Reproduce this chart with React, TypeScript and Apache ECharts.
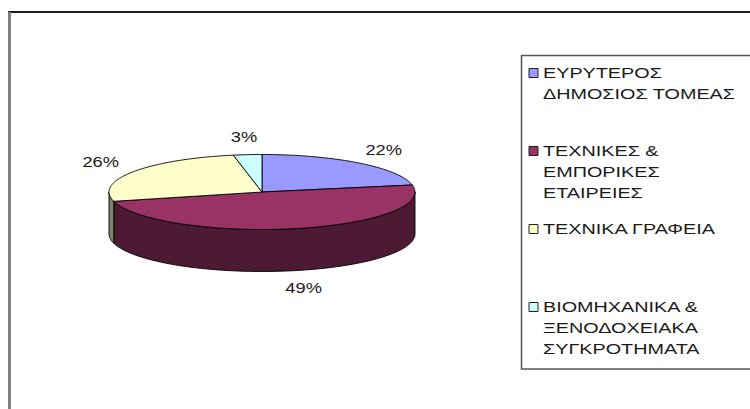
import React, { useEffect, useRef } from "react";
import * as echarts from "echarts";

// ---- data ----
const CATEGORIES = [
  "ΕΥΡΥΤΕΡΟΣ\nΔΗΜΟΣΙΟΣ ΤΟΜΕΑΣ",
  "ΤΕΧΝΙΚΕΣ &\nΕΜΠΟΡΙΚΕΣ\nΕΤΑΙΡΕΙΕΣ",
  "ΤΕΧΝΙΚΑ ΓΡΑΦΕΙΑ",
  "ΒΙΟΜΗΧΑΝΙΚΑ &\nΞΕΝΟΔΟΧΕΙΑΚΑ\nΣΥΓΚΡΟΤΗΜΑΤΑ",
];
const VALUES = [22, 49, 26, 3];

// ---- styles / layout ----
const COLORS = ["#9999FF", "#993366", "#FFFFCC", "#CCFFFF"];
const CX = 262;
const CY = 192;
const RX = 153;
const RY = 37.5;
const DEPTH = 42;
const LABEL_RX = 191;
const LABEL_RY = 55;
const FONT = "'Liberation Sans', Arial, sans-serif";
const TEXT_COLOR = "#1a1a1a";

function darken(hex: string, f: number): string {
  const n = parseInt(hex.slice(1), 16);
  const r = Math.round(((n >> 16) & 255) * f);
  const g = Math.round(((n >> 8) & 255) * f);
  const b = Math.round((n & 255) * f);
  return "rgb(" + r + "," + g + "," + b + ")";
}

function arcPts(a0: number, a1: number, dy: number): number[][] {
  const n = Math.max(2, Math.ceil((a1 - a0) / (Math.PI / 180)));
  const pts: number[][] = [];
  for (let k = 0; k <= n; k++) {
    const a = a0 + ((a1 - a0) * k) / n;
    pts.push([CX + RX * Math.sin(a), CY - RY * Math.cos(a) + dy]);
  }
  return pts;
}

export default function App() {
  const ref = useRef<HTMLDivElement>(null);

  useEffect(() => {
    if (!ref.current) return;
    const chart = echarts.init(ref.current, undefined, { renderer: "svg" });
    const total = VALUES.reduce((s, v) => s + v, 0);
    const cum: number[] = [0];
    VALUES.forEach((v, i) => cum.push(cum[i] + v));

    const renderItem = (params: any, api: any) => {
      const i = params.dataIndex;
      const v = api.value(0);
      const a0 = (cum[i] / total) * Math.PI * 2;
      const a1 = a0 + (v / total) * Math.PI * 2;
      const color = COLORS[i % COLORS.length];
      const children: any[] = [];
      const s = Math.max(a0, Math.PI / 2);
      const e = Math.min(a1, (Math.PI * 3) / 2);
      if (e > s) {
        const pts = arcPts(s, e, 0).concat(arcPts(s, e, DEPTH).reverse());
        children.push({
          type: "polygon",
          shape: { points: pts },
          style: { fill: darken(color, 0.5), stroke: "#000", lineWidth: 0.9 },
        });
      }
      children.push({
        type: "polygon",
        shape: { points: [[CX, CY]].concat(arcPts(a0, a1, 0)) },
        style: { fill: color, stroke: "#000", lineWidth: 0.9 },
      });
      const mid = (a0 + a1) / 2;
      const sn = Math.sin(mid);
      const cs = Math.cos(mid);
      const lx = CX + LABEL_RX * sn;
      const ly = CY - LABEL_RY * cs + (cs < 0 ? DEPTH : 0);
      children.push({
        type: "text",
        x: lx,
        y: ly,
        scaleX: 1.22,
        style: {
          text: Math.round((v / total) * 100) + "%",
          fill: TEXT_COLOR,
          fontSize: 15,
          fontFamily: FONT,
          align: "center",
          textAlign: "center",
          verticalAlign: "middle",
          textVerticalAlign: "middle",
        },
      });
      return { type: "group", children };
    };

    // legend drawn with graphic elements
    const legendEls: any[] = [];
    const LEG_X = 529;
    const LEG_Y0 = 73;
    const LEG_STEP = 78;
    const LINE_H = 21;
    CATEGORIES.forEach((name, i) => {
      const y = LEG_Y0 + i * LEG_STEP;
      legendEls.push({
        type: "rect",
        shape: { x: LEG_X, y: y - 4.5, width: 9, height: 9 },
        style: { fill: COLORS[i], stroke: "#222", lineWidth: 1 },
      });
      legendEls.push({
        type: "text",
        x: LEG_X + 14,
        y: y - LINE_H / 2,
        scaleX: 1.32,
        style: {
          text: name,
          fill: TEXT_COLOR,
          fontSize: 15,
          fontFamily: FONT,
          lineHeight: LINE_H,
          align: "left",
          textAlign: "left",
          verticalAlign: "top",
          textVerticalAlign: "top",
        },
      });
    });

    chart.setOption({
      animation: false,
      backgroundColor: "#ffffff",
      graphic: [
        {
          type: "line",
          shape: { x1: 8, y1: 12, x2: 760, y2: 12 },
          style: { stroke: "#1f1f1f", lineWidth: 2 },
        },
        {
          type: "line",
          shape: { x1: 9.5, y1: 12, x2: 9.5, y2: 420 },
          style: { stroke: "#808080", lineWidth: 3 },
        },
        {
          type: "rect",
          shape: { x: 521.5, y: 55.5, width: 260, height: 313.5 },
          style: { fill: "#ffffff", stroke: "#555555", lineWidth: 1.5 },
        },
        ...legendEls,
      ],
      series: [
        {
          type: "custom",
          coordinateSystem: "none",
          renderItem,
          data: VALUES.map((v, i) => ({ value: v, name: CATEGORIES[i] })),
          silent: true,
        },
      ],
    });
    return () => chart.dispose();
  }, []);

  return (
    <div
      ref={ref}
      style={{ position: "absolute", left: 0, top: 0, width: 750, height: 409 }}
    />
  );
}
